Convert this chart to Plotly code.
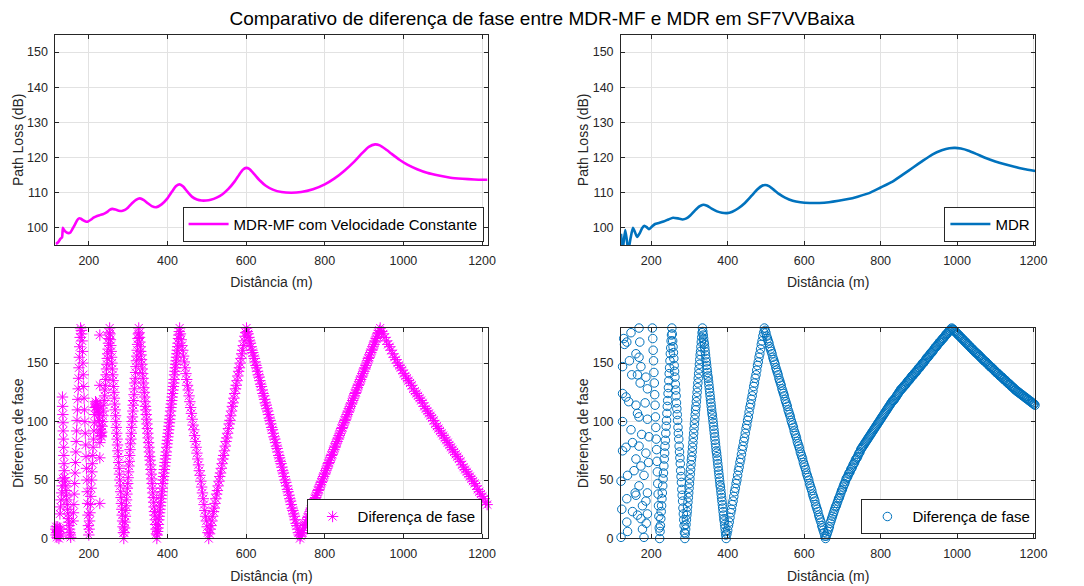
import plotly.graph_objects as go

FONT = "Liberation Sans, Arial, Helvetica, sans-serif"
TXT = "#262626"
MAGENTA = "#FF00FF"
BLUE = "#0072BD"

# ---------------- Path loss (top row) ----------------
dist_mf = [116, 122, 128, 132, 134, 136, 141, 148, 153, 158, 165, 170, 175, 180, 185, 192, 198, 205, 212, 221,
           230, 238, 246, 253, 260, 268, 276, 284, 292, 300, 310, 320, 330, 340, 350, 360, 372, 385, 400, 412,
           422, 431, 440, 450, 462, 475, 487, 498, 510, 525, 540, 555, 570, 582, 592, 600, 608, 620, 635, 650,
           668, 690, 715, 740, 770, 800, 825, 850, 875, 895, 912, 928, 940, 955, 970, 990, 1010, 1035, 1060,
           1090, 1120, 1150, 1180, 1214]
pl_mf = [95.3, 95.8, 96.8, 97.2, 99.9, 99.5, 98.8, 98.4, 98.6, 99.5, 100.9, 102.0, 102.6, 102.5, 102.1, 101.7,
         101.7, 102.2, 102.8, 103.3, 103.6, 103.9, 104.4, 105.0, 105.3, 105.1, 104.8, 104.7, 105.0, 105.7, 106.9,
         107.9, 108.3, 107.8, 106.9, 106.1, 105.8, 106.6, 108.3, 110.3, 111.8, 112.3, 111.7, 110.3, 108.8, 108.0,
         107.7, 107.7, 107.9, 108.5, 109.5, 111.0, 113.0, 115.0, 116.5, 117.0, 116.7, 115.3, 113.4, 111.9, 110.8,
         110.1, 109.9, 110.1, 110.9, 112.3, 114.0, 116.2, 118.8, 121.2, 123.0, 123.7, 123.4, 122.3, 121.0, 119.3,
         117.9, 116.6, 115.6, 114.8, 114.2, 113.9, 113.7, 113.6]

dist_mdr = [121, 125, 128, 132, 136, 140, 146, 152, 157, 163, 170, 176, 182, 188, 194, 202, 210, 220, 232, 245,
            257, 270, 282, 292, 302, 314, 326, 336, 346, 358, 372, 385, 398, 412, 428, 445, 462, 478, 490, 498,
            508, 520, 535, 550, 570, 590, 615, 640, 665, 690, 715, 740, 770, 800, 830, 860, 885, 910, 935, 960,
            980, 995, 1010, 1030, 1050, 1075, 1100, 1125, 1150, 1175, 1205]
pl_mdr = [98.2, 93.5, 96.0, 99.3, 96.5, 93.5, 97.0, 99.9, 98.8, 97.3, 98.4, 99.8, 100.5, 100.1, 99.5, 100.3,
          101.0, 101.3, 101.7, 102.3, 102.8, 102.6, 102.3, 102.6, 103.4, 104.8, 106.0, 106.5, 106.2, 105.4, 104.6,
          104.2, 104.1, 104.5, 105.5, 107.0, 109.0, 110.9, 111.9, 112.1, 111.8, 110.8, 109.5, 108.5, 107.6, 107.2,
          107.0, 107.0, 107.2, 107.6, 108.1, 108.8, 109.8, 111.4, 113.0, 115.2, 117.1, 119.0, 120.8, 122.0, 122.6,
          122.7, 122.5, 121.9, 121.0, 119.8, 118.8, 118.0, 117.3, 116.7, 116.1]

# ---------------- Phase difference MDR-MF (bottom left) ----------------
mf_early_x = [116, 116.5, 117, 118, 119, 120, 121, 122, 123, 124, 125, 126, 127, 128,
              126.5, 128, 129.5, 131, 132.5, 134,
              133, 133.5, 134, 134.5, 135, 135.5, 136, 136.5, 137, 137.5, 138,
              139.5, 141, 142, 143, 144, 145, 146, 147, 148, 149, 150, 151, 152, 153, 154,
              160, 161, 162, 163, 164, 165, 166, 167, 168, 169, 170, 171, 172, 173, 174, 175, 176, 177, 178, 179,
              181, 182, 183, 184, 185, 186, 187, 188, 189, 190, 191, 192, 193, 194, 195, 196, 197, 198, 199, 200,
              201, 202, 203, 204, 205, 206, 207, 208, 209, 210, 211, 212, 213, 214, 215, 216, 217,
              218, 219, 220, 221, 222, 223, 224, 225, 226, 227, 228, 229, 230, 231, 232,
              233, 234, 235, 236, 237, 238, 239, 240, 241, 242, 243, 244, 245, 246, 247, 248, 249, 250, 251, 252, 253,
              228, 228, 228, 228, 228]
mf_early_y = [8, 3, 10, 5, 1, 7, 10, 3, 6, 0, 9, 4, 2, 8,
              21, 27, 33, 39, 45, 51,
              121, 113, 106, 99, 92, 85, 78, 71, 64, 58, 52,
              49, 45, 41, 37, 33, 29, 25, 21, 17, 14, 11, 8, 5, 3, 1,
              15, 22, 29, 38, 47, 56, 65, 74, 83, 92, 101, 110, 119, 128, 137, 146, 155, 164, 172, 180,
              178, 175, 169, 160, 150, 140, 130, 120, 110, 100, 90, 80, 70, 60, 50, 40, 30, 20, 11, 3,
              8, 15, 22, 29, 36, 43, 50, 57, 64, 71, 78, 85, 92, 99, 106, 112, 117,
              115, 113, 116, 112, 114, 110, 108, 111, 105, 101, 97, 93, 90, 88, 87,
              91, 96, 100, 105, 109, 114, 118, 122, 127, 131, 136, 140, 145, 149, 154, 158, 162, 167, 171, 176, 180,
              174, 131, 30, 82, 69]
# every 1 m from 254 m
mf_seg1 = [175, 170, 165, 160, 155, 150, 145, 140, 135, 130, 125, 120, 115, 110, 105, 100, 95, 90, 85, 80, 75, 70,
           65, 60, 55, 50, 45, 40, 35, 30, 25, 20, 15, 10, 5, 0,
           5, 9, 14, 19, 24, 28, 33, 38, 43, 47, 52, 57, 62, 66, 71, 76, 81, 85, 90, 95, 100, 104, 109, 114, 118,
           123, 128, 133, 137, 142, 147, 152, 156, 161, 166, 171, 175, 180,
           176, 172, 168, 164, 160, 157, 153, 149, 145, 141, 137, 133, 129, 125, 121, 117, 113, 110, 106, 102, 98,
           94, 90, 86, 82, 78, 74, 70, 67, 63, 59, 55, 51, 47, 43, 39, 35, 31, 27, 23, 20, 16, 12, 8, 4, 0,
           3, 6, 9, 12, 16, 19, 22, 25, 28, 31, 34, 37, 40, 43, 47, 50, 53, 56, 59, 62, 65, 68, 71, 74, 78, 81, 84,
           87, 90, 93, 96, 99, 102, 105, 109, 112, 115, 118, 121, 124, 127, 130, 133, 136, 140, 143, 146, 149, 152,
           155, 158, 161, 164, 167, 171, 174, 177, 180]
# every 2 m from 433 m
mf_seg2 = [175, 170, 165, 161, 156, 151, 146, 141, 136, 131, 127, 122, 117, 112, 107, 102, 97, 93, 88, 83, 78, 73,
           68, 63, 58, 54, 49, 44, 39, 34, 29, 24, 19, 15, 10, 5, 0,
           4, 8, 11, 15, 19, 23, 26, 30, 34, 38, 41, 45, 49, 53, 56, 60, 64, 68, 71, 75, 79, 83, 86, 90, 94, 98, 101,
           105, 109, 113, 116, 120, 124, 128, 131, 135, 139, 143, 146, 150, 154, 158, 161, 165, 169, 173, 176, 180,
           177, 175, 172, 169, 167, 164, 161, 159, 156, 154, 151, 148, 146, 143, 140, 138, 135, 132, 130, 127, 124,
           122, 119, 116, 114, 111, 109, 106, 103, 101, 98, 95, 93, 90, 87, 85, 82, 79, 77, 74, 71, 69, 66, 64, 61,
           58, 56, 53, 50, 48, 45, 42, 40, 37, 34, 32, 29, 26, 24, 21, 19, 16, 13, 11, 8, 5, 3, 0]
# every 2 m from 739 m
mf_seg3 = [2, 4, 5, 7, 9, 11, 12, 14, 16, 18, 19, 21, 23, 25, 26, 28, 30, 32, 34, 35, 37, 39, 41, 42, 44, 46, 48,
           49, 51, 53, 55, 56, 58, 60, 62, 64, 65, 67, 69, 71, 72, 74, 76, 78, 79, 81, 83, 85, 86, 88, 90, 92, 94,
           95, 97, 99, 101, 102, 104, 106, 108, 109, 111, 113, 115, 116, 118, 120, 122, 124, 125, 127, 129, 131,
           132, 134, 136, 138, 139, 141, 143, 145, 146, 148, 150, 152, 154, 155, 157, 159, 161, 162, 164, 166, 168,
           169, 171, 173, 175, 176, 178, 180]
# every 4 m from 945 m
mf_seg4 = [177, 175, 172, 169, 166, 164, 161, 158, 155, 153, 150, 148, 146, 144, 141, 139, 137, 135, 133, 131,
           128, 126, 124, 122, 120, 118, 116, 113, 111, 109, 107, 105, 103, 101, 98, 96, 94, 92, 90, 88, 86, 84,
           82, 80, 78, 76, 74, 72, 70, 68, 66, 63, 61, 59, 57, 55, 53, 51, 49, 47, 45, 42, 40, 38, 36, 34, 31, 29]

# ---------------- Phase difference MDR (bottom right) ----------------
mdr_early_x = [121, 123, 121, 125, 125, 125, 125, 128, 130, 134, 134, 136,
               147, 143, 149, 141, 147, 151, 138, 136, 136, 138,
               160, 164, 160, 164, 160, 155, 160, 164, 151, 158,
               168, 170, 168, 173, 171, 168, 175, 168, 173, 168, 177, 173, 177, 181,
               186, 190, 184, 190, 194, 186, 193, 181, 190, 186, 190, 187]
mdr_early_y = [1, 25, 49, 75, 100, 124, 147, 171, 166, 78, 121, 168,
               176, 152, 140, 117, 93, 82, 54, 34, 14, 6,
               158, 140, 114, 107, 68, 58, 37, 20, 23, 39,
               180, 168, 155, 147, 133, 104, 89, 79, 62, 45, 28, 17, 8, 1,
               138, 128, 116, 102, 87, 73, 65, 54, 39, 32, 21, 13]
# every 1 m from 203 m
mdr_seg1 = [180, 171, 161, 152, 142, 133, 123, 114, 104, 95, 85, 76, 66, 57, 47, 38, 28, 19, 9, 0,
            6, 11, 17, 23, 28, 34, 39, 45, 51, 56, 62, 68, 73, 79, 84, 90, 96, 101, 107, 113, 118, 124, 129, 135,
            141, 146, 152, 158, 163, 169, 174, 180,
            175, 169, 164, 159, 154, 148, 143, 138, 132, 127, 122, 116, 111, 106, 101, 95, 90, 85, 79, 74, 69, 64,
            58, 53, 48, 42, 37, 32, 26, 21, 16, 11, 5, 0,
            4, 8, 12, 16, 20, 23, 27, 31, 35, 39, 43, 47, 51, 55, 59, 63, 67, 70, 74, 78, 82, 86, 90, 94, 98, 102,
            106, 110, 113, 117, 121, 125, 129, 133, 137, 141, 145, 149, 153, 157, 160, 164, 168, 172, 176, 180,
            177, 174, 171, 168, 166, 163, 160, 157, 154, 151, 148, 145, 142, 139, 137, 134, 131, 128, 125, 122, 119,
            116, 113, 110, 107, 105, 102, 99, 96, 93, 90, 87, 84, 81, 78, 75, 73, 70, 67, 64, 61, 58, 55, 52, 49,
            46, 44, 41, 38, 35, 32, 29, 26, 23, 20, 17, 15, 12, 9, 6, 3, 0]
# every 2 m from 398 m
mdr_seg2 = [4, 7, 11, 14, 18, 22, 25, 29, 32, 36, 40, 43, 47, 50, 54, 58, 61, 65, 68, 72, 76, 79, 83, 86, 90, 94,
            97, 101, 104, 108, 112, 115, 119, 122, 126, 130, 133, 137, 140, 144, 148, 151, 155, 158, 162, 166, 169,
            173, 176, 180,
            178, 176, 173, 171, 169, 167, 164, 162, 160, 158, 155, 153, 151, 149, 146, 144, 142, 140, 137, 135, 133,
            131, 128, 126, 124, 122, 119, 117, 115, 113, 110, 108, 106, 104, 101, 99, 97, 95, 92, 90, 88, 86, 83,
            81, 79, 77, 74, 72, 70, 68, 65, 63, 61, 59, 56, 54, 52, 50, 47, 45, 43, 41, 38, 36, 34, 32, 29, 27, 25,
            23, 20, 18, 16, 14, 11, 9, 7, 5, 2, 0]
# every 2 m from 658 m
mdr_seg3 = [2, 4, 6, 8, 10, 13, 15, 17, 19, 21, 23, 25,
            27, 28, 30, 32, 34, 35, 37, 39, 41, 42, 44, 46, 47, 49,
            51, 52, 53, 55, 56, 57, 59, 60, 61, 63, 64, 65, 67, 68, 69, 70, 72, 73, 74, 76, 77,
            78, 79, 80, 81, 82, 83, 84, 85, 86, 87, 88, 89, 90, 91, 92, 93, 94, 95, 96, 97, 98, 99,
            100, 101, 102, 103, 104, 105, 106, 107, 108, 109, 110, 111, 112, 113, 114, 115, 116, 117, 118, 118, 119,
            120, 121, 122, 123, 124, 125, 126,
            127, 128, 128, 129, 130, 131, 131, 132, 133, 134, 135, 135, 136, 137, 138, 139, 139, 140, 141, 142, 142,
            143, 144, 145, 146, 146, 147, 148, 149, 150,
            150, 151, 152, 153, 154, 155, 155, 156, 157, 158, 159, 159, 160, 161, 162, 163, 164, 164, 165, 166,
            167, 168, 168, 169, 170, 171, 171, 172, 173, 174, 175, 175, 176, 177, 178, 178, 179, 180]
# every 2 m from 988 m
mdr_seg4 = [179, 179, 178, 177, 177, 176, 175, 175, 174, 173, 173, 172, 171, 171, 170, 169, 169, 168, 167, 167,
            166, 165, 165, 164, 163, 163, 162,
            161, 161, 160, 159, 159, 158, 158, 157, 156, 156, 155, 154, 154, 153, 152, 152, 151, 151, 150, 149, 149,
            148, 147, 147, 146, 146, 145, 144, 144, 143,
            142, 142, 141, 141, 140, 139, 139, 138, 138, 137, 136, 136, 135, 135, 134, 133, 133, 132, 132, 131, 130,
            130, 129, 129, 128,
            127, 127, 126, 126, 125, 125, 124, 124, 123, 123, 122, 122, 121, 121, 120, 120, 119, 119, 118, 118, 117,
            117, 116, 116, 115, 115, 114]

x_ticks = [200, 400, 600, 800, 1000, 1200]
pl_ticks = [100, 110, 120, 130, 140, 150]
ph_ticks = [0, 50, 100, 150]


def grid(start, step, vals):
    return [start + step * i for i in range(len(vals))]


mf_x = (mf_early_x + grid(254, 1, mf_seg1) + grid(433, 2, mf_seg2) + grid(739, 2, mf_seg3)
        + grid(945, 4, mf_seg4))
mf_y = mf_early_y + mf_seg1 + mf_seg2 + mf_seg3 + mf_seg4
mdr_x = (mdr_early_x + grid(203, 1, mdr_seg1) + grid(398, 2, mdr_seg2) + grid(658, 2, mdr_seg3)
         + grid(988, 2, mdr_seg4))
mdr_y = mdr_early_y + mdr_seg1 + mdr_seg2 + mdr_seg3 + mdr_seg4

fig = go.Figure()
fig.add_trace(go.Scatter(x=dist_mf, y=pl_mf, mode="lines", name="MDR-MF com Velocidade Constante",
                         line=dict(color=MAGENTA, width=2.6, shape="spline", smoothing=0.5),
                         showlegend=True, xaxis="x", yaxis="y", legend="legend"))
fig.add_trace(go.Scatter(x=dist_mdr, y=pl_mdr, mode="lines", name="MDR",
                         line=dict(color=BLUE, width=2.6, shape="spline", smoothing=0.5),
                         showlegend=True, xaxis="x2", yaxis="y2", legend="legend2"))
fig.add_trace(go.Scatter(x=mf_x, y=mf_y, mode="markers", name="Diferença de fase",
                         marker=dict(symbol="asterisk-open", size=9.5, color=MAGENTA,
                                     line=dict(color=MAGENTA, width=1)),
                         showlegend=True, cliponaxis=False, xaxis="x3", yaxis="y3", legend="legend3"))
fig.add_trace(go.Scatter(x=mdr_x, y=mdr_y, mode="markers", name="Diferença de fase",
                         marker=dict(symbol="circle-open", size=8.5, color=BLUE, line=dict(color=BLUE, width=1)),
                         showlegend=True, cliponaxis=False, xaxis="x4", yaxis="y4", legend="legend4"))

W, H = 1084, 586
LX = [56 / W, 493 / W]
RX = [628 / W, 1047 / W]
TY = [1 - 248 / H, 1 - 35 / H]
BY = [1 - 545 / H, 1 - 332 / H]

ax = dict(showline=True, linecolor=TXT, linewidth=1, mirror="ticks", ticks="inside", ticklen=4,
          tickcolor=TXT, tickwidth=1, showgrid=True, gridcolor="#e2e2e2", gridwidth=1, zeroline=False,
          tickfont=dict(family=FONT, size=12.5, color=TXT))
xt = dict(ax, tickvals=x_ticks, ticklabelstandoff=4,
          title=dict(text="Distância (m)", font=dict(family=FONT, size=14, color=TXT), standoff=10))
yt_pl = dict(ax, tickvals=pl_ticks, range=[95, 155], ticklabelstandoff=4,
             title=dict(text="Path Loss (dB)", font=dict(family=FONT, size=14, color=TXT), standoff=0))
yt_ph = dict(ax, tickvals=ph_ticks, range=[0, 180], ticklabelstandoff=4,
             title=dict(text="Diferença de fase", font=dict(family=FONT, size=14, color=TXT), standoff=0))

leg = dict(bgcolor="white", bordercolor=TXT, borderwidth=1, font=dict(family=FONT, size=15, color="#000"),
           xanchor="right", yanchor="middle", itemwidth=40)

fig.update_layout(
    width=W, height=H, margin=dict(l=0, r=0, t=0, b=0),
    paper_bgcolor="white", plot_bgcolor="white", showlegend=True,
    font=dict(family=FONT, color=TXT),
    title=dict(text="Comparativo de diferença de fase entre MDR-MF e MDR em SF7VVBaixa",
               x=0.5, xanchor="center", y=1 - 18 / H, yanchor="middle",
               font=dict(family=FONT, size=19, color="#000")),
    xaxis=dict(xt, domain=LX, range=[115, 1214], anchor="y"),
    yaxis=dict(yt_pl, domain=TY, anchor="x"),
    xaxis2=dict(xt, domain=RX, range=[121, 1205], anchor="y2"),
    yaxis2=dict(yt_pl, domain=TY, anchor="x2"),
    xaxis3=dict(xt, domain=LX, range=[115, 1214], anchor="y3"),
    yaxis3=dict(yt_ph, domain=BY, anchor="x3"),
    xaxis4=dict(xt, domain=RX, range=[121, 1205], anchor="y4"),
    yaxis4=dict(yt_ph, domain=BY, anchor="x4"),
    legend=dict(leg, x=489 / W, y=1 - 227 / H),
    legend2=dict(leg, x=1048 / W, y=1 - 227 / H),
    legend3=dict(leg, x=487 / W, y=1 - 523 / H),
    legend4=dict(leg, x=1048 / W, y=1 - 523 / H),
)

fig.write_html("out.html")
